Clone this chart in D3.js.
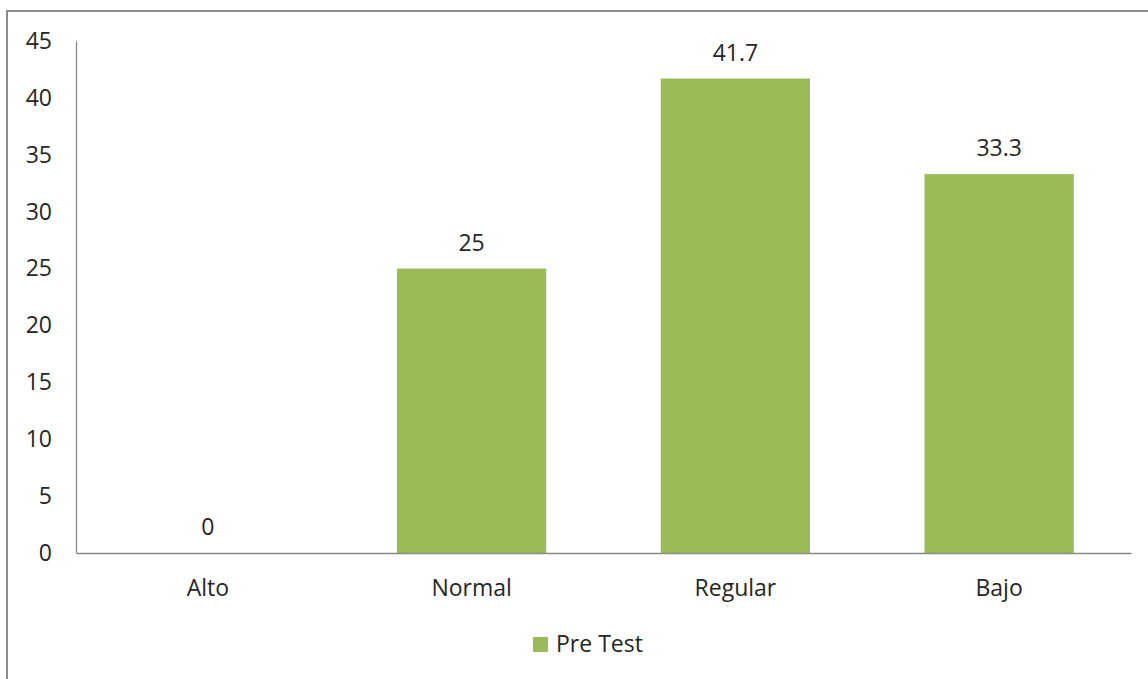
<!DOCTYPE html>
<html>
<head>
<meta charset="utf-8">
<script src="https://cdn.jsdelivr.net/npm/d3@7"></script>
<style>
  html, body { margin: 0; padding: 0; background: #fff; }
  svg { display: block; }
  text { font-family: "Open Sans", "Noto Sans", sans-serif; fill: #262626; }
</style>
</head>
<body>
<svg id="chart" width="1148" height="679"></svg>
<script>
// Nivel por categoría, Pre Test (%)
const categories = ["Alto", "Normal", "Regular", "Bajo"];
const preTest = [0, 25, 41.7, 33.3];
const yTicks = [0, 5, 10, 15, 20, 25, 30, 35, 40, 45];
const seriesName = "Pre Test";

const svg = d3.select("#chart");
const W = 1148, H = 679;
const plot = { left: 76, right: 1131, top: 41, bottom: 553 };
const barColor = "#9BBB59";
const axisColor = "#898989";
const fontSize = 23;

// Outer frame (extends past the right and bottom edges)
svg.append("rect")
  .attr("x", 7).attr("y", 11)
  .attr("width", W + 10).attr("height", H + 10)
  .attr("fill", "#fff")
  .attr("stroke", "#8c8c8c")
  .attr("stroke-width", 2);

const x = d3.scaleBand()
  .domain(categories)
  .range([plot.left, plot.right])
  .paddingInner(0.434)
  .paddingOuter(0.217);

const y = d3.scaleLinear()
  .domain([0, 45])
  .range([plot.bottom, plot.top]);

// Y axis
const yAxis = svg.append("g")
  .attr("transform", `translate(${plot.left},0)`)
  .call(d3.axisLeft(y).tickValues(yTicks).tickSize(0).tickPadding(24));
yAxis.select(".domain").attr("stroke", axisColor).attr("stroke-width", 1.3);
yAxis.selectAll("text")
  .style("font-size", fontSize + "px")
  .attr("fill", "#262626");

// Bars
const data = categories.map((c, i) => ({ cat: c, val: preTest[i] }));
svg.append("g").selectAll("rect")
  .data(data)
  .join("rect")
  .attr("x", d => x(d.cat))
  .attr("y", d => y(d.val))
  .attr("width", x.bandwidth())
  .attr("height", d => y(0) - y(d.val))
  .attr("fill", barColor);

// X axis
const xAxis = svg.append("g")
  .attr("transform", `translate(0,${plot.bottom})`)
  .call(d3.axisBottom(x).tickSize(0).tickPadding(27));
xAxis.select(".domain").attr("stroke", axisColor).attr("stroke-width", 1.3);
xAxis.selectAll("text")
  .style("font-size", fontSize + "px")
  .attr("fill", "#262626");

// Value labels
svg.append("g").selectAll("text")
  .data(data)
  .join("text")
  .attr("x", d => x(d.cat) + x.bandwidth() / 2)
  .attr("y", d => y(d.val) - 18)
  .attr("text-anchor", "middle")
  .style("font-size", fontSize + "px")
  .text(d => d3.format("")(d.val));

// Legend
const legend = svg.append("g").attr("transform", "translate(533,637)");
legend.append("rect")
  .attr("width", 15).attr("height", 15)
  .attr("fill", barColor);
legend.append("text")
  .attr("x", 23).attr("y", 15)
  .style("font-size", fontSize + "px")
  .text(seriesName);
</script>
</body>
</html>
